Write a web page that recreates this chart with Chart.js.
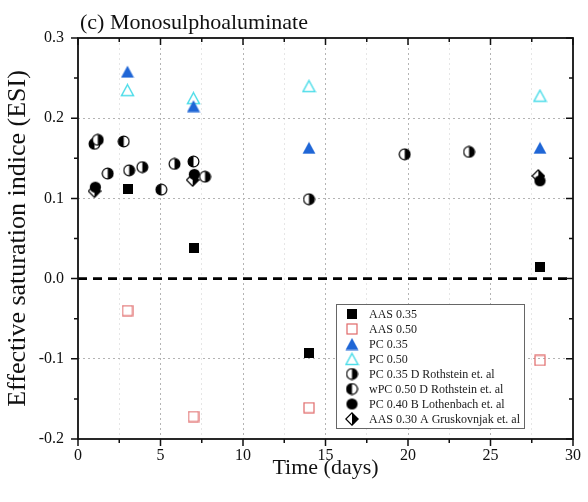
<!DOCTYPE html>
<html><head><meta charset="utf-8">
<script src="https://cdn.jsdelivr.net/npm/chart.js@4.4.0/dist/chart.umd.min.js"></script>
<style>html,body{margin:0;padding:0;background:#fff}</style>
</head><body>
<canvas id="c" width="588" height="502"></canvas>
<script>
// ---- data (days, ESI) ----
const chartTitle = '(c) Monosulphoaluminate';
const xTitle = 'Time (days)';
const yTitle = 'Effective saturation indice (ESI)';
const xTickLabels = ['0','5','10','15','20','25','30'];
const yTickLabels = ['-0.2','-0.1','0.0','0.1','0.2','0.3'];
const seriesNames = ['AAS 0.35','AAS 0.50','PC 0.35','PC 0.50','PC 0.35 D Rothstein et. al','wPC 0.50 D Rothstein et. al','PC 0.40 B Lothenbach et. al','AAS 0.30 A Gruskovnjak et. al'];
const aas035 = [[3,0.112],[7,0.038],[14,-0.093],[28,0.015]];
const aas050 = [[3,-0.040],[7,-0.172],[14,-0.161],[28,-0.102]];
const pc035 = [[3,0.258],[7,0.215],[14,0.163],[28,0.163]];
const pc050 = [[3,0.235],[7,0.225],[14,0.240],[28,0.228]];
const rothPc035 = [[1.2,0.173],[1.8,0.131],[3.1,0.135],[3.9,0.139],[5.85,0.143],[7.7,0.127],[14,0.099],[19.8,0.155],[23.7,0.158]];
const rothWpc050 = [[1.0,0.168],[2.77,0.171],[5.05,0.111],[7.0,0.146]];
const lothPc040 = [[1.05,0.114],[7.05,0.130],[28,0.122]];
const grusAas030 = [[1.0,0.109],[6.95,0.123],[27.9,0.128]];
const zeroLine = [[0,0],[30,0]];

const FONT = "'Liberation Serif','Times New Roman',serif";

function mk(w,h,draw){const c=document.createElement('canvas');c.width=w;c.height=h;draw(c.getContext('2d'),w,h);return c;}
const mSqFill = mk(10,10,(g)=>{g.fillStyle='#000';g.fillRect(0,0,10,10);});
const mSqOpen = mk(12,12,(g)=>{g.strokeStyle='#e06868';g.lineWidth=1.2;g.strokeRect(1,1,10,10);});
const mTriFill = mk(14,13,(g)=>{g.fillStyle='#1f66d6';g.beginPath();g.moveTo(7,0.5);g.lineTo(13.5,12.5);g.lineTo(0.5,12.5);g.closePath();g.fill();});
const mTriOpen = mk(15,14,(g)=>{g.strokeStyle='#4fdde9';g.lineWidth=1.5;g.fillStyle='#fff';g.beginPath();g.moveTo(7.5,1.5);g.lineTo(13.5,12.5);g.lineTo(1.5,12.5);g.closePath();g.fill();g.stroke();});
function halfCircle(side){return mk(13,13,(g)=>{const c=6.5,r=5.4;g.fillStyle='#fff';g.beginPath();g.arc(c,c,r,0,Math.PI*2);g.fill();g.fillStyle='#000';g.beginPath();if(side==='right'){g.arc(c,c,r,-Math.PI/2,Math.PI/2,false);}else{g.arc(c,c,r,Math.PI/2,Math.PI*1.5,false);}g.closePath();g.fill();g.strokeStyle='#000';g.lineWidth=1.2;g.beginPath();g.arc(c,c,r,0,Math.PI*2);g.stroke();});}
const mHalfR = halfCircle('right');
const mHalfL = halfCircle('left');
const mCirc = mk(13,13,(g)=>{g.fillStyle='#000';g.beginPath();g.arc(6.5,6.5,5.6,0,Math.PI*2);g.fill();});
const mDia = mk(14,14,(g)=>{g.fillStyle='#fff';g.beginPath();g.moveTo(7,0.8);g.lineTo(13.2,7);g.lineTo(7,13.2);g.lineTo(0.8,7);g.closePath();g.fill();g.fillStyle='#000';g.beginPath();g.moveTo(7,0.8);g.lineTo(13.2,7);g.lineTo(7,13.2);g.closePath();g.fill();g.strokeStyle='#000';g.lineWidth=1.2;g.beginPath();g.moveTo(7,0.8);g.lineTo(13.2,7);g.lineTo(7,13.2);g.lineTo(0.8,7);g.closePath();g.stroke();});

const markers = [mSqFill,mSqOpen,mTriFill,mTriOpen,mHalfR,mHalfL,mCirc,mDia];
const seriesData = [aas035,aas050,pc035,pc050,rothPc035,rothWpc050,lothPc040,grusAas030];
const toXY = a => a.map(p=>({x:p[0],y:p[1]}));

const datasets = seriesData.map((d,i)=>({
  type:'scatter', label:seriesNames[i], data:toXY(d),
  pointStyle:markers[i], pointRadius:5, pointHoverRadius:5, order:1
}));
datasets.push({type:'line',label:'zero',data:toXY(zeroLine),borderColor:'#000',borderWidth:2.6,borderDash:[9,6],pointRadius:0,fill:false,order:2});

const legendPlugin = {id:'customLegend', afterDatasetsDraw(chart){
  const ctx=chart.ctx; ctx.save();
  const L=336,T=304,W=188,H=124;
  ctx.fillStyle='#fff'; ctx.fillRect(L,T,W,H);
  ctx.strokeStyle='#666'; ctx.lineWidth=1; ctx.strokeRect(L+0.5,T+0.5,W,H);
  ctx.font='12px '+FONT; ctx.fillStyle='#1a1a1a'; ctx.textBaseline='middle'; ctx.textAlign='left';
  seriesNames.forEach((n,i)=>{const y=T+10+i*15; const m=markers[i];
    ctx.drawImage(m, 352-m.width/2, y-m.height/2); ctx.fillText(n, 369, y+0.5);});
  ctx.restore();
}};

const framePlugin = {id:'frame', afterDraw(chart){
  const ctx=chart.ctx, a=chart.chartArea, xs=chart.scales.x, ys=chart.scales.y;
  ctx.save(); ctx.strokeStyle='#111'; ctx.lineWidth=1.8;
  ctx.strokeRect(a.left,a.top,a.right-a.left,a.bottom-a.top);
  ctx.lineWidth=1.5; ctx.beginPath();
  for(let v=0; v<=30.001; v+=2.5){ const px=xs.getPixelForValue(v); const major=Math.abs(v/5-Math.round(v/5))<1e-6; const len=major?7:4;
    ctx.moveTo(px,a.bottom); ctx.lineTo(px,a.bottom+len); ctx.moveTo(px,a.top); ctx.lineTo(px,a.top+len); }
  for(let k=-4; k<=6; k++){ const v=k*0.05; const py=ys.getPixelForValue(v); const major=(k%2===0); const len=major?7:4;
    ctx.moveTo(a.left,py); ctx.lineTo(a.left-len,py); ctx.moveTo(a.right,py); ctx.lineTo(a.right-len,py); }
  ctx.stroke();
  ctx.fillStyle='#111'; ctx.font='22px '+FONT; ctx.textBaseline='alphabetic'; ctx.textAlign='left';
  ctx.fillText(chartTitle, 80, 29);
  ctx.restore();
}};

new Chart(document.getElementById('c'), {
  data:{datasets},
  options:{
    responsive:false, animation:false, devicePixelRatio:1,
    layout:{padding:{top:38,right:12,left:0,bottom:0}},
    plugins:{legend:{display:false},tooltip:{enabled:false},title:{display:false}},
    scales:{
      x:{type:'linear',min:0,max:30,
        afterFit(s){s.height=63;},
        ticks:{stepSize:2.5,autoSkip:false,maxRotation:0,padding:7,color:'#111',font:{family:FONT,size:16},
          callback(v){const i=Math.round(v/5); return Math.abs(v-i*5)<1e-6 ? xTickLabels[i] : '';}},
        grid:{drawTicks:false,lineWidth:1,color(c){const v=c.tick?c.tick.value:0; if(v<=0.001||v>=29.999) return 'rgba(0,0,0,0)'; const major=Math.abs(v/5-Math.round(v/5))<1e-6; return major?'#b4b4b4':'#e6e6e6';}},
        border:{display:false,dash:[2,3]},
        title:{display:true,text:xTitle,color:'#111',font:{family:FONT,size:22},padding:{top:0,bottom:21}}
      },
      y:{type:'linear',min:-0.2,max:0.3,
        afterFit(s){s.width=78;},
        ticks:{stepSize:0.1,autoSkip:false,padding:14,color:'#111',font:{family:FONT,size:16},
          callback(v){const i=Math.round((v+0.2)*10); return yTickLabels[i];}},
        grid:{drawTicks:false,lineWidth:1,color(c){const v=c.tick?c.tick.value:0; if(Math.abs(v)<1e-6||v<-0.199||v>0.299) return 'rgba(0,0,0,0)'; return '#b4b4b4';}},
        border:{display:false,dash:[2,3]},
        title:{display:true,text:yTitle,color:'#111',font:{family:FONT,size:26},padding:{top:3,bottom:0}}
      }
    }
  },
  plugins:[legendPlugin, framePlugin]
});
</script>
</body></html>
